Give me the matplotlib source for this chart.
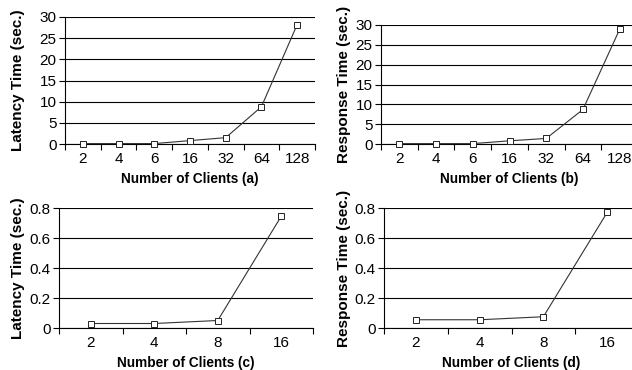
import numpy as np
import matplotlib
matplotlib.use("Agg")
import matplotlib.pyplot as plt

plt.rcParams["font.family"] = ["Liberation Sans", "DejaVu Sans"]

# data
clients_big = ["2", "4", "6", "16", "32", "64", "128"]
latency_big = [0.1, 0.1, 0.1, 0.8, 1.5, 8.8, 28.2]
response_big = [0.1, 0.1, 0.1, 0.8, 1.4, 8.7, 28.9]

clients_small = ["2", "4", "8", "16"]
latency_small = [0.03, 0.03, 0.05, 0.745]
response_small = [0.055, 0.055, 0.075, 0.77]

W, H = 632, 370
fig = plt.figure(figsize=(W / 100, H / 100), dpi=100)


def px_axes(left, top, right, bottom):
    # pixel box -> figure fraction
    return fig.add_axes([left / W, 1 - bottom / H, (right - left) / W, (bottom - top) / H])


def draw(ax, cats, vals, ymax, ystep, ylabel, xlabel, ylab_x, xlab_y):
    n = len(cats)
    x = np.arange(n)
    ax.plot(x, vals, color="#333333", lw=0.8, marker="s", ms=4,
            mfc="white", mec="#222222", mew=0.7, zorder=3, clip_on=False)
    ax.set_xlim(-0.5, n - 0.5)
    ax.set_ylim(0, ymax)
    yt = np.arange(0, ymax + ystep / 2, ystep)
    ax.set_yticks(yt)
    ax.set_yticklabels([f"{v:g}" for v in yt])
    ax.set_xticks(x)
    ax.set_xticklabels(cats)
    ax.set_xticks(np.arange(n + 1) - 0.5, minor=True)
    ax.tick_params(axis="x", which="major", length=0, pad=6, labelsize=11)
    ax.tick_params(axis="x", which="minor", length=4, width=0.8, direction="out")
    ax.tick_params(axis="y", length=4, width=0.8, direction="out", pad=2, labelsize=11)
    ax.grid(axis="y", color="black", lw=0.8)
    ax.set_axisbelow(True)
    for s in ("top", "right"):
        ax.spines[s].set_visible(False)
    for s in ("left", "bottom"):
        ax.spines[s].set_linewidth(0.8)
    ax.set_ylabel(ylabel, fontsize=11, fontweight="bold", va="center")
    ax.set_xlabel(xlabel, fontsize=9.8, fontweight="bold", va="center")
    bb = ax.get_position()
    ax.yaxis.set_label_coords(ylab_x / W, (bb.y0 + bb.y1) / 2, transform=fig.transFigure)
    ax.xaxis.set_label_coords((bb.x0 + bb.x1) / 2, 1 - xlab_y / H, transform=fig.transFigure)


ax_a = px_axes(65, 17, 315, 144)
draw(ax_a, clients_big, latency_big, 30, 5, "Latency Time (sec.)",
     "Number of Clients (a)", 18, 179)

ax_b = px_axes(381, 25, 638, 144)
draw(ax_b, clients_big, response_big, 30, 5, "Response Time (sec.)",
     "Number of Clients (b)", 344, 179)

ax_c = px_axes(59, 208, 313, 328)
draw(ax_c, clients_small, latency_small, 0.8, 0.2, "Latency Time (sec.)",
     "Number of Clients (c)", 18, 363)

ax_d = px_axes(384, 208, 639, 328)
draw(ax_d, clients_small, response_small, 0.8, 0.2, "Response Time (sec.)",
     "Number of Clients (d)", 344, 363)

fig.savefig("out.png", dpi=100)
